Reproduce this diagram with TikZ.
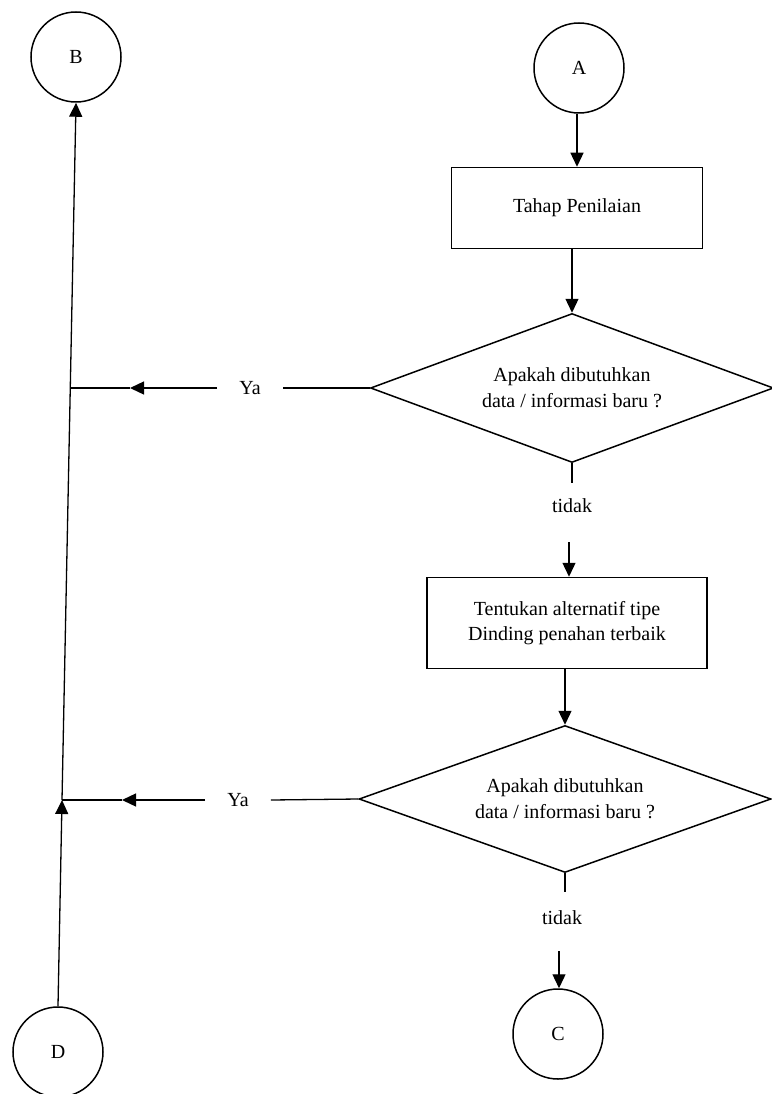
\documentclass[tikz,border=0pt]{standalone}
\usepackage{fontspec}
\setmainfont{Liberation Serif}
\usetikzlibrary{shapes.geometric,arrows.meta}

\begin{document}
\begin{tikzpicture}[x=1pt,y=-1pt,
  every node/.style={font=\fontsize{20}{26}\selectfont},
  conn/.style={circle,draw,line width=1.5pt,minimum size=90pt,inner sep=0pt,
    font=\fontsize{20}{24}\selectfont},
  procbox/.style={rectangle,draw,line width=1.5pt,align=center,inner sep=0pt,
    font=\fontsize{20}{25}\selectfont},
  decision/.style={diamond,draw,line width=1.5pt,align=center,inner sep=0pt,aspect=2.7},
  answer/.style={inner xsep=22pt,inner ysep=2pt},
  flow/.style={line width=1.3pt},
  arr/.style={flow,-{Triangle[length=14pt,width=13pt]}}
]
\useasboundingbox (0,0) rectangle (771,1094);

% connectors (on-page references)
\node[conn] (B) at (76,57) {B};
\node[conn] (A) at (579,68) {A};
\node[conn] (C) at (558,1034) {C};
\node[conn] (D) at (58,1052) {D};

% process steps
\node[procbox,minimum width=251pt,minimum height=81pt] (p1) at (577,208) {Tahap Penilaian};
\node[procbox,minimum width=280pt,minimum height=91pt] (p2) at (567,623)
  {Tentukan alternatif tipe\\Dinding penahan terbaik};

% decisions
\node[decision,minimum width=403pt,minimum height=149pt] (d1) at (572,388)
  {Apakah dibutuhkan\\data / informasi baru ?};
\node[decision,minimum width=412pt,minimum height=147pt] (d2) at (565,799)
  {Apakah dibutuhkan\\data / informasi baru ?};

% branch labels
\node[answer] (ya1) at (250,388) {Ya};
\node[answer] (ya2) at (238,800) {Ya};
\node (no1) at (572,506) {tidak};
\node (no2) at (562,918) {tidak};

% junctions on the return line and free ends
\coordinate (j1) at (69.7,388);
\coordinate (j2) at (62,800);
\coordinate (m1) at (130,388);
\coordinate (m2) at (122,800);
\coordinate (s1) at ([yshift=-20pt]d1.south);
\coordinate (t1) at (569,542);
\coordinate (s2) at ([yshift=-19pt]d2.south);
\coordinate (t2) at (559,951);

% main flow
\draw[arr] (A.south -| p1.north) -- (p1.north);
\draw[arr] (d1.north |- p1.south) -- (d1.north);
\draw[flow] (d1.south) -- (s1);
\draw[arr] (t1) -- (p2.north -| t1);
\draw[arr] (d2.north |- p2.south) -- (d2.north);
\draw[flow] (d2.south) -- (s2);
\draw[arr] (t2) -- (C.north -| t2);

% "Ya" branches back to the return line
\draw[flow] (d1.west) -- (ya1.east);
\draw[arr] (ya1.west) -- (m1);
\draw[flow] (m1) -- (j1);
\draw[flow] (d2.west) -- (ya2.east);
\draw[arr] (ya2.west) -- (m2);
\draw[flow] (m2) -- (j2);

% return line from D up to B
\draw[arr] (D.north) -- (j2);
\draw[arr] (j2) -- (B.south);
\end{tikzpicture}
\end{document}
